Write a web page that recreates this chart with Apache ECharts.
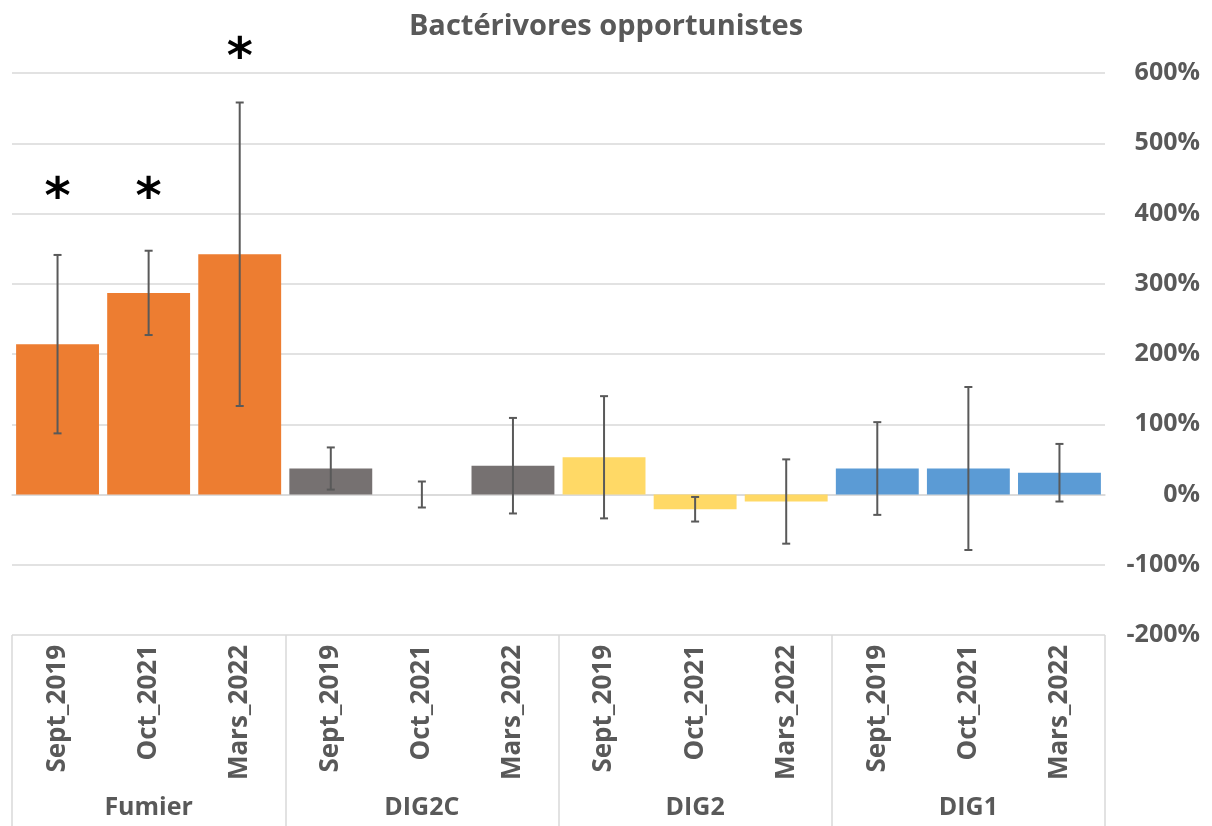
<!DOCTYPE html>
<html>
<head>
<meta charset="utf-8">
<script src="https://cdn.jsdelivr.net/npm/echarts@6/dist/echarts.min.js"></script>
<style>
  html, body { margin: 0; padding: 0; background: #ffffff; }
  #chart { width: 1212px; height: 826px; }
</style>
</head>
<body>
<div id="chart"></div>
<script>
// Treatment groups and sampling campaigns (two-level category axis)
const groups = ['Fumier', 'DIG2C', 'DIG2', 'DIG1'];
const periods = ['Sept_2019', 'Oct_2021', 'Mars_2022'];
const groupColors = ['#ED7D31', '#767171', '#FFD966', '#5B9BD5'];

// Mean change (%) per group × campaign, in group order
const means = [214, 287, 342, 37, 0, 41, 53, -21, -10, 37, 37, 31];
// Error bar half-widths (%)
const errors = [127, 60, 216, 30, 18.5, 68, 87, 17.5, 60, 66, 116, 41];
// Height (%) of the significance asterisk, null when none
const starHeights = [433, 433, 633, null, null, null, null, null, null, null, null, null];

// Y axis ticks
const yMin = -200, yMax = 600, yStep = 100;

const textColor = '#595959';
const gridColor = '#d9d9d9';
const fontFamily = '"Open Sans", "DejaVu Sans", sans-serif';

const categories = [];
const barData = [];
groups.forEach((g, gi) => {
  periods.forEach((p, pi) => {
    const i = gi * periods.length + pi;
    categories.push(p);
    barData.push({ value: means[i], itemStyle: { color: groupColors[gi] } });
  });
});
const errData = means.map((m, i) => [i, m - errors[i], m + errors[i]]);
const starData = starHeights
  .map((h, i) => (h === null ? null : [i, h]))
  .filter(d => d !== null);

const chart = echarts.init(document.getElementById('chart'), null, { renderer: 'canvas' });

chart.setOption({
  animation: false,
  backgroundColor: '#ffffff',
  title: {
    text: 'Bactérivores opportunistes',
    left: 'center',
    top: 7,
    textStyle: { fontFamily, fontWeight: 'bold', fontSize: 29, color: textColor }
  },
  grid: { left: 12, right: 107, top: 73, bottom: 191, containLabel: false },
  xAxis: [
    {
      type: 'category',
      data: categories,
      position: 'bottom',
      axisLine: { show: true, lineStyle: { color: gridColor, width: 1.5 } },
      axisTick: { show: false },
      axisLabel: {
        interval: 0,
        rotate: 90,
        margin: 10,
        color: textColor,
        fontFamily,
        fontWeight: 'bold',
        fontSize: 26
      }
    },
    {
      type: 'category',
      data: groups,
      position: 'bottom',
      axisLine: { show: false },
      axisTick: {
        show: true,
        interval: 0,
        alignWithLabel: false,
        length: 200,
        lineStyle: { color: gridColor, width: 1.5 }
      },
      axisLabel: {
        interval: 0,
        margin: 160,
        color: textColor,
        fontFamily,
        fontWeight: 'bold',
        fontSize: 25
      }
    }
  ],
  yAxis: {
    type: 'value',
    position: 'right',
    min: yMin,
    max: yMax,
    interval: yStep,
    axisLine: { show: false },
    axisTick: { show: false },
    splitLine: { show: true, lineStyle: { color: gridColor, width: 1.5 } },
    axisLabel: {
      formatter: '{value}%',
      align: 'right',
      margin: 95,
      color: textColor,
      fontFamily,
      fontWeight: 'bold',
      fontSize: 25
    }
  },
  series: [
    {
      type: 'bar',
      xAxisIndex: 0,
      data: barData,
      barCategoryGap: '9%'
    },
    {
      // error bars
      type: 'custom',
      xAxisIndex: 0,
      data: errData,
      z: 5,
      renderItem: function (params, api) {
        const lo = api.coord([api.value(0), api.value(1)]);
        const hi = api.coord([api.value(0), api.value(2)]);
        const cap = 4;
        const style = { stroke: '#595959', lineWidth: 2 };
        return {
          type: 'group',
          children: [
            { type: 'line', shape: { x1: hi[0], y1: hi[1], x2: lo[0], y2: lo[1] }, style },
            { type: 'line', shape: { x1: hi[0] - cap, y1: hi[1], x2: hi[0] + cap, y2: hi[1] }, style },
            { type: 'line', shape: { x1: lo[0] - cap, y1: lo[1], x2: lo[0] + cap, y2: lo[1] }, style }
          ]
        };
      }
    },
    {
      // significance asterisks; the glyph sits high in its em box, so nudge it down
      type: 'custom',
      xAxisIndex: 0,
      data: starData,
      z: 6,
      clip: false,
      renderItem: function (params, api) {
        const p = api.coord([api.value(0), api.value(1)]);
        const size = 50;
        return {
          type: 'text',
          x: p[0],
          y: p[1] + size * 0.2,
          style: {
            text: '*',
            fill: '#000000',
            font: 'bold ' + size + 'px "DejaVu Sans", sans-serif',
            textAlign: 'center',
            textVerticalAlign: 'middle'
          }
        };
      }
    }
  ]
});
</script>
</body>
</html>
